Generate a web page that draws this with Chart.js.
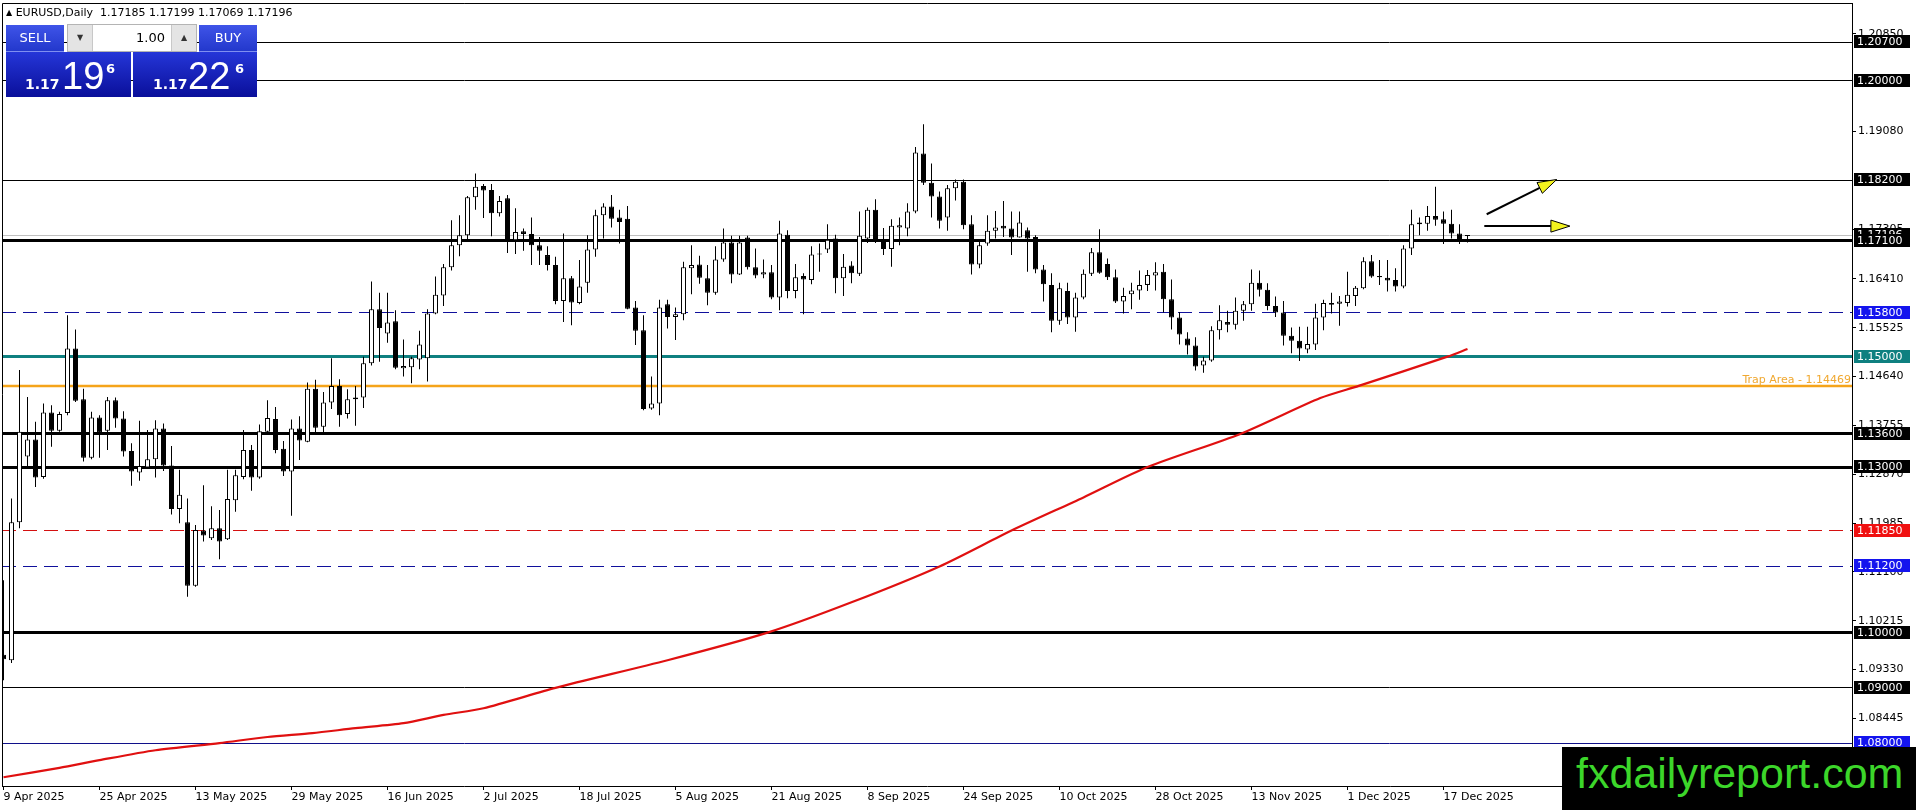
<!DOCTYPE html>
<html>
<head>
<meta charset="utf-8">
<script src="https://cdn.jsdelivr.net/npm/chart.js@4.4.0/dist/chart.umd.min.js"></script>
<style>
html, body { margin: 0; padding: 0; background: #fff; overflow: hidden; }
#wrap { position: relative; width: 1916px; height: 810px; }
#c { position: absolute; left: 0; top: 0; }
.hdr { position: absolute; left: 6px; top: 6px; font: 11px "DejaVu Sans"; line-height: 13px; color: #000; white-space: pre; }
.hdr .tri { font-size: 8px; position: relative; top: -1px; }
.btn { position: absolute; top: 25px; width: 58px; height: 27px; color: #fff; font: 13px "DejaVu Sans"; text-align: center; line-height: 25px;
  background: linear-gradient(#3f54e8, #2338cc); box-sizing: border-box; border-bottom: 1px solid #7f8ff0; }
.sell { left: 6px; }
.buy { left: 199px; }
.lot { position: absolute; left: 67px; top: 24px; width: 130px; height: 28px; background: #fff; border: 1px solid #b4b4b4; box-sizing: border-box; }
.lot .dn, .lot .up { position: absolute; top: 0; width: 24px; height: 26px; background: #e4e4e4; color: #333; font: 8px "DejaVu Sans"; text-align: center; line-height: 26px; }
.lot .dn { left: 0; border-right: 1px solid #c8c8c8; }
.lot .up { right: 0; border-left: 1px solid #c8c8c8; }
.lot .val { position: absolute; left: 25px; right: 25px; top: 0; height: 26px; text-align: right; padding-right: 6px; font: 13px "DejaVu Sans"; line-height: 26px; color: #000; }
.px { position: absolute; top: 52px; height: 45px; background: linear-gradient(#2536d8, #0a0f9a); color: #fff; }
.px span { position: absolute; line-height: 1; white-space: nowrap; }
.px .sm { font: bold 14px "DejaVu Sans"; top: 24px; }
.px .big { font: 38px "Liberation Sans"; top: 3px; }
.px .sup { font: bold 13px "DejaVu Sans"; top: 9px; }
.psell { left: 6px; width: 125px; }
.pbuy { left: 133px; width: 124px; }
.logo { position: absolute; left: 1562px; top: 747px; width: 354px; height: 63px; background: #000; }
.logo span { position: absolute; left: 14px; top: 5px; font: 43px "Liberation Sans"; line-height: 1; color: #3cd62a; }
</style>
</head>
<body>
<div id="wrap">
<canvas id="c" width="1916" height="810"></canvas>
<div class="hdr" id="hdr"></div>
<div class="btn sell">SELL</div>
<div class="lot"><div class="dn">&#9660;</div><div class="val" id="lot"></div><div class="up">&#9650;</div></div>
<div class="btn buy">BUY</div>
<div class="px psell"><span class="sm" style="left:19px" id="sSm"></span><span class="big" style="left:56px" id="sBig"></span><span class="sup" style="left:100px" id="sSup"></span></div>
<div class="px pbuy"><span class="sm" style="left:20px" id="bSm"></span><span class="big" style="left:55px" id="bBig"></span><span class="sup" style="left:102px" id="bSup"></span></div>
<div class="logo"><span>fxdailyreport.com</span></div>
</div>
<script>
// EURUSD daily, 9 Apr 2025 .. 22 Dec 2025, one entry per bar
const opens = [
1.0960,1.0950,1.1200,1.1319,1.1350,1.1282,1.1399,1.1366,1.1398,1.1515,
1.1423,1.1317,1.1390,1.1366,1.1421,1.1388,1.1329,1.1290,1.1299,1.1314,
1.1370,1.1303,1.1224,1.1200,1.1085,1.1185,1.1171,1.1189,1.1169,1.1240,
1.1282,1.1331,1.1281,1.1364,1.1387,1.1333,1.1292,1.1370,1.1346,1.1442,
1.1373,1.1417,1.1447,1.1396,1.1423,1.1426,1.1488,1.1586,1.1542,1.1564,
1.1479,1.1481,1.1495,1.1497,1.1578,1.1611,1.1662,1.1702,1.1720,1.1789,
1.1809,1.1802,1.1760,1.1787,1.1711,1.1727,1.1722,1.1702,1.1684,1.1666,
1.1601,1.1642,1.1597,1.1634,1.1694,1.1756,1.1772,1.1752,1.1750,1.1589,
1.1548,1.1406,1.1415,1.1595,1.1572,1.1577,1.1660,1.1667,1.1642,1.1616,
1.1676,1.1707,1.1649,1.1716,1.1662,1.1649,1.1653,1.1607,1.1721,1.1619,
1.1646,1.1639,1.1687,1.1694,1.1714,1.1642,1.1665,1.1650,1.1714,1.1766,
1.1710,1.1695,1.1734,1.1732,1.1763,1.1868,1.1815,1.1790,1.1752,1.1805,
1.1817,1.1740,1.1667,1.1705,1.1728,1.1737,1.1732,1.1716,1.1729,1.1717,
1.1658,1.1630,1.1565,1.1619,1.1571,1.1607,1.1650,1.1689,1.1668,1.1644,
1.1600,1.1613,1.1620,1.1630,1.1647,1.1654,1.1604,1.1571,1.1533,1.1520,
1.1484,1.1493,1.1548,1.1563,1.1558,1.1583,1.1595,1.1634,1.1621,1.1592,
1.1580,1.1538,1.1529,1.1513,1.1522,1.1571,1.1597,1.1596,1.1597,1.1610,
1.1624,1.1673,1.1646,1.1643,1.1639,1.1627,1.1696,1.1740,1.1741,1.1755,
1.1749,1.1741,1.1723,1.17185
];
const highs = [
1.1095,1.1243,1.1476,1.1427,1.1382,1.1415,1.1412,1.1400,1.1575,1.1549,
1.1442,1.1400,1.1394,1.1427,1.1426,1.1401,1.1343,1.1384,1.1367,1.1385,
1.1379,1.1338,1.1295,1.1243,1.1195,1.1267,1.1229,1.1222,1.1295,1.1295,
1.1367,1.1340,1.1377,1.1421,1.1409,1.1347,1.1386,1.1392,1.1453,1.1458,
1.1436,1.1497,1.1459,1.1441,1.1447,1.1500,1.1636,1.1616,1.1616,1.1584,
1.1531,1.1500,1.1547,1.1586,1.1645,1.1668,1.1747,1.1756,1.1791,1.1832,
1.1813,1.1813,1.1791,1.1793,1.1769,1.1732,1.1752,1.1717,1.1700,1.1681,
1.1723,1.1646,1.1675,1.1720,1.1766,1.1778,1.1793,1.1766,1.1773,1.1601,
1.1575,1.1464,1.1603,1.1603,1.1589,1.1672,1.1702,1.1683,1.1666,1.1700,
1.1732,1.1719,1.1719,1.1719,1.1696,1.1676,1.1666,1.1746,1.1729,1.1668,
1.1651,1.1700,1.1705,1.1740,1.1721,1.1686,1.1673,1.1763,1.1770,1.1785,
1.1733,1.1749,1.1752,1.1778,1.1880,1.1921,1.1850,1.1799,1.1811,1.1821,
1.1821,1.1756,1.1711,1.1756,1.1764,1.1782,1.1763,1.1763,1.1734,1.1720,
1.1666,1.1651,1.1634,1.1634,1.1616,1.1658,1.1697,1.1731,1.1678,1.1658,
1.1625,1.1634,1.1656,1.1657,1.1671,1.1668,1.1640,1.1581,1.1544,1.1535,
1.1500,1.1555,1.1593,1.1583,1.1607,1.1601,1.1658,1.1656,1.1633,1.1609,
1.1601,1.1553,1.1554,1.1554,1.1596,1.1603,1.1616,1.1610,1.1654,1.1628,
1.1680,1.1684,1.1675,1.1675,1.1660,1.1702,1.1766,1.1752,1.1773,1.1808,
1.1763,1.1766,1.1740,1.17199
];
const lows = [
1.0914,1.0945,1.1189,1.1298,1.1264,1.1279,1.1337,1.1364,1.1394,1.1418,
1.1310,1.1314,1.1317,1.1331,1.1371,1.1319,1.1266,1.1275,1.1298,1.1281,
1.1293,1.1214,1.1198,1.1065,1.1083,1.1165,1.1168,1.1133,1.1168,1.1219,
1.1278,1.1257,1.1279,1.1362,1.1325,1.1284,1.1212,1.1313,1.1345,1.1360,
1.1359,1.1405,1.1373,1.1388,1.1375,1.1407,1.1484,1.1491,1.1525,1.1477,
1.1464,1.1452,1.1477,1.1455,1.1577,1.1592,1.1656,1.1682,1.1711,1.1766,
1.1751,1.1718,1.1754,1.1688,1.1686,1.1692,1.1666,1.1666,1.1656,1.1595,
1.1563,1.1557,1.1595,1.1616,1.1681,1.1714,1.1734,1.1705,1.1586,1.1521,
1.1403,1.1404,1.1394,1.1551,1.1530,1.1566,1.1613,1.1632,1.1593,1.1612,
1.1672,1.1633,1.1648,1.1658,1.1642,1.1642,1.1604,1.1584,1.1606,1.1606,
1.1577,1.1631,1.1654,1.1688,1.1615,1.1610,1.1633,1.1646,1.1706,1.1706,
1.1684,1.1663,1.1702,1.1718,1.1760,1.1811,1.1752,1.1732,1.1728,1.1783,
1.1731,1.1649,1.1660,1.1701,1.1714,1.1717,1.1684,1.1716,1.1654,1.1651,
1.1600,1.1544,1.1558,1.1559,1.1545,1.1604,1.1646,1.1650,1.1639,1.1597,
1.1578,1.1586,1.1603,1.1619,1.1620,1.1580,1.1549,1.1522,1.1504,1.1475,
1.1471,1.1491,1.1531,1.1544,1.1549,1.1565,1.1583,1.1609,1.1584,1.1572,
1.1520,1.1506,1.1492,1.1506,1.1512,1.1548,1.1578,1.1556,1.1591,1.1592,
1.1622,1.1643,1.1630,1.1618,1.1618,1.1624,1.1684,1.1720,1.1728,1.1737,
1.1704,1.1714,1.1704,1.17069
];
const closes = [
1.0952,1.1200,1.1364,1.1350,1.1281,1.1399,1.1366,1.1396,1.1515,1.1420,
1.1317,1.1390,1.1362,1.1421,1.1388,1.1328,1.1292,1.1302,1.1314,1.1370,
1.1303,1.1224,1.1250,1.1085,1.1186,1.1176,1.1189,1.1165,1.1242,1.1285,
1.1331,1.1281,1.1365,1.1389,1.1331,1.1292,1.1370,1.1348,1.1442,1.1371,
1.1417,1.1447,1.1394,1.1423,1.1426,1.1488,1.1586,1.1552,1.1562,1.1480,
1.1483,1.1497,1.1522,1.1578,1.1612,1.1662,1.1702,1.1720,1.1789,1.1808,
1.1801,1.1760,1.1782,1.1711,1.1726,1.1722,1.1702,1.1692,1.1666,1.1601,
1.1642,1.1598,1.1627,1.1694,1.1756,1.1772,1.1750,1.1744,1.1587,1.1547,
1.1405,1.1415,1.1589,1.1572,1.1577,1.1662,1.1666,1.1643,1.1616,1.1676,
1.1707,1.1649,1.1707,1.1662,1.1647,1.1653,1.1607,1.1723,1.1619,1.1644,
1.1640,1.1685,1.1685,1.1712,1.1642,1.1663,1.1651,1.1719,1.1766,1.1710,
1.1695,1.1737,1.1738,1.1763,1.1870,1.1815,1.1790,1.1746,1.1805,1.1817,
1.1738,1.1667,1.1702,1.1728,1.1734,1.1732,1.1716,1.1743,1.1714,1.1658,
1.1631,1.1565,1.1624,1.1571,1.1607,1.1650,1.1689,1.1652,1.1644,1.1600,
1.1610,1.1620,1.1630,1.1648,1.1653,1.1604,1.1571,1.1540,1.1520,1.1482,
1.1493,1.1548,1.1566,1.1558,1.1583,1.1595,1.1634,1.1621,1.1592,1.1580,
1.1538,1.1529,1.1515,1.1523,1.1571,1.1597,1.1594,1.1600,1.1612,1.1625,
1.1673,1.1645,1.1644,1.1638,1.1627,1.1696,1.1740,1.1743,1.1755,1.1748,
1.1741,1.1723,1.1708,1.17196
];

// red moving average at these bar positions
const maIdx  = [0, 7, 12, 19, 27, 33, 38.6, 44, 50, 55, 60, 69, 83, 95.5, 106, 117, 126, 135, 143, 154.6, 164.6, 169.4, 180.5, 183];
const maVals = [1.0738, 1.0755, 1.0769, 1.0787, 1.0800, 1.0811, 1.0818, 1.0827, 1.0836, 1.0851, 1.0863, 1.0900, 1.0950, 1.1000, 1.1055, 1.1120, 1.1185, 1.1245, 1.1300, 1.1360, 1.1425, 1.1447, 1.1500, 1.1514];

// time axis labels
const dateTickIdx  = [0, 12, 24, 36, 48, 60, 72, 84, 96, 108, 120, 132, 144, 156, 168, 180];
const dateTickText = ['9 Apr 2025', '25 Apr 2025', '13 May 2025', '29 May 2025', '16 Jun 2025', '2 Jul 2025', '18 Jul 2025', '5 Aug 2025',
  '21 Aug 2025', '8 Sep 2025', '24 Sep 2025', '10 Oct 2025', '28 Oct 2025', '13 Nov 2025', '1 Dec 2025', '17 Dec 2025'];

// price axis labels
const priceTicks = [1.20850, 1.19080, 1.17305, 1.16410, 1.15525, 1.14640, 1.13755, 1.12870, 1.11985, 1.11100, 1.10215, 1.09330, 1.08445];

// horizontal levels
const levelPrices = [1.2070, 1.2000, 1.1820, 1.1710, 1.1580, 1.1500, 1.1360, 1.1300, 1.1185, 1.1120, 1.1000, 1.0900, 1.0800];
const trapPrice = 1.14469;
const bidPrice = 1.17196;
const askPrice = 1.17226;
const lotSize = 1.00;

// arrows (bar index, price)
const arrowFromIdx = [185.4, 185.1];
const arrowFromPx  = [1.1758, 1.17365];
const arrowToIdx   = [194.15, 195.8];
const arrowToPx    = [1.1821, 1.17365];

// styles for the levels, same order as levelPrices
const levelStyle = [
  { color: '#000', w: 1, box: '#000' },
  { color: '#000', w: 1, box: '#000' },
  { color: '#000', w: 1, box: '#000' },
  { color: '#000', w: 3, box: '#000' },
  { color: '#10109c', w: 1, dash: [14, 7], box: '#1414ee' },
  { color: '#0e8080', w: 3, box: '#0e8080' },
  { color: '#000', w: 3, box: '#000' },
  { color: '#000', w: 3, box: '#000' },
  { color: '#d41010', w: 1, dash: [14, 7], box: '#f01010' },
  { color: '#10109c', w: 1, dash: [14, 7], box: '#1414ee' },
  { color: '#000', w: 3, box: '#000' },
  { color: '#000', w: 1, box: '#000' },
  { color: '#10108a', w: 1, box: '#1414ee' }
];
const AXIS_FONT = { family: 'DejaVu Sans', size: 11 };

// header and trade panel texts
const last = opens.length - 1;
document.getElementById('hdr').innerHTML = '<span class="tri">&#9650;</span> EURUSD,Daily  ' +
  [opens[last], highs[last], lows[last], closes[last]].map(v => v.toFixed(5)).join(' ');
document.getElementById('lot').textContent = lotSize.toFixed(2);
function splitQuote(p, pre, big, sup) {
  const s = p.toFixed(5);
  document.getElementById(pre).textContent = s.slice(0, 4);
  document.getElementById(big).textContent = s.slice(4, 6);
  document.getElementById(sup).textContent = s.slice(6);
}
splitQuote(bidPrice, 'sSm', 'sBig', 'sSup');
splitQuote(askPrice, 'bSm', 'bBig', 'bSup');

const bars = opens.map((_, i) => i);
const wickData = bars.map(i => ({ x: i, y: [lows[i], highs[i]] }));
const bodyData = bars.map(i => ({ x: i, y: [opens[i], closes[i]] }));
const maData = maIdx.map((v, k) => ({ x: v, y: maVals[k] }));

function snap(v, w) { return (w % 2 === 1) ? Math.round(v - 0.5) + 0.5 : Math.round(v); }

function drawArrow(ctx, x0, y0, x1, y1) {
  const ang = Math.atan2(y1 - y0, x1 - x0);
  const len = 19, half = 6;
  const bx = x1 - len * Math.cos(ang), by = y1 - len * Math.sin(ang);
  ctx.setLineDash([]);
  ctx.strokeStyle = '#000';
  ctx.lineWidth = 2;
  ctx.beginPath(); ctx.moveTo(x0, y0); ctx.lineTo(bx, by); ctx.stroke();
  ctx.beginPath();
  ctx.moveTo(x1, y1);
  ctx.lineTo(bx + half * Math.sin(ang), by - half * Math.cos(ang));
  ctx.lineTo(bx - half * Math.sin(ang), by + half * Math.cos(ang));
  ctx.closePath();
  ctx.fillStyle = '#f2f21e';
  ctx.fill();
  ctx.lineWidth = 1;
  ctx.stroke();
}

const levelsPlugin = {
  id: 'levels',
  beforeDatasetsDraw(chart) {
    const { ctx, chartArea: a, scales: { x, y } } = chart;
    ctx.save();
    ctx.beginPath(); ctx.rect(a.left, a.top, a.right - a.left, a.bottom - a.top); ctx.clip();
    // bid line
    let by = snap(y.getPixelForValue(bidPrice), 1);
    ctx.strokeStyle = '#c0c0c0'; ctx.lineWidth = 1;
    ctx.beginPath(); ctx.moveTo(a.left, by); ctx.lineTo(a.right, by); ctx.stroke();
    levelPrices.forEach((p, k) => {
      const st = levelStyle[k];
      const py = snap(y.getPixelForValue(p), st.w);
      ctx.strokeStyle = st.color; ctx.lineWidth = st.w; ctx.setLineDash(st.dash || []);
      ctx.beginPath(); ctx.moveTo(a.left, py); ctx.lineTo(a.right, py); ctx.stroke();
    });
    // trap area
    const ty = y.getPixelForValue(trapPrice);
    ctx.setLineDash([]);
    ctx.strokeStyle = '#f5a41a'; ctx.lineWidth = 2.5;
    ctx.beginPath(); ctx.moveTo(a.left, ty); ctx.lineTo(a.right, ty); ctx.stroke();
    ctx.fillStyle = '#f0a830';
    ctx.font = '11px "DejaVu Sans"';
    ctx.textAlign = 'right'; ctx.textBaseline = 'alphabetic';
    ctx.fillText('Trap Area - ' + trapPrice.toFixed(5), a.right - 1, ty - 3);
    ctx.restore();
  },
  afterDatasetsDraw(chart) {
    const { ctx, scales: { x, y } } = chart;
    ctx.save();
    arrowFromIdx.forEach((v, k) => {
      drawArrow(ctx, x.getPixelForValue(v), y.getPixelForValue(arrowFromPx[k]),
        x.getPixelForValue(arrowToIdx[k]), y.getPixelForValue(arrowToPx[k]));
    });
    ctx.restore();
  },
  afterDraw(chart) {
    const { ctx, chartArea: a, scales: { y } } = chart;
    ctx.save();
    ctx.strokeStyle = '#000'; ctx.lineWidth = 1;
    ctx.beginPath();
    ctx.moveTo(a.left + 0.5, a.bottom); ctx.lineTo(a.left + 0.5, a.top + 0.5); ctx.lineTo(a.right, a.top + 0.5);
    ctx.stroke();
    ctx.font = '11px "DejaVu Sans"';
    ctx.textAlign = 'left'; ctx.textBaseline = 'middle';
    const box = (p, col) => {
      const py = Math.round(y.getPixelForValue(p));
      ctx.fillStyle = col;
      ctx.fillRect(a.right + 2, py - 7, 56, 13);
      ctx.fillStyle = '#fff';
      ctx.fillText(p.toFixed(5), a.right + 5, py);
    };
    box(bidPrice, '#000');
    levelPrices.forEach((p, k) => box(p, levelStyle[k].box));
    ctx.restore();
  }
};

new Chart(document.getElementById('c'), {
  type: 'bar',
  data: {
    datasets: [
      { type: 'line', data: maData, borderColor: '#e01010', borderWidth: 2.2, pointRadius: 0, tension: 0.25, order: 0 },
      { data: bodyData, grouped: false, barThickness: 5, borderWidth: 1, borderColor: '#000', borderSkipped: false,
        inflateAmount: 0, minBarLength: 1,
        backgroundColor: c => closes[c.dataIndex] >= opens[c.dataIndex] ? '#fff' : '#000', order: 1 },
      { data: wickData, grouped: false, barThickness: 1, borderWidth: 0, inflateAmount: 0, backgroundColor: '#000', order: 2 }
    ]
  },
  options: {
    responsive: false,
    animation: false,
    devicePixelRatio: 1,
    events: [],
    layout: { padding: { left: 2, top: 3, right: 0, bottom: 0 } },
    plugins: { legend: { display: false }, tooltip: { enabled: false } },
    scales: {
      x: {
        type: 'linear', position: 'bottom', offset: false, bounds: 'data',
        min: -0.1875, max: -0.1875 + 1850 / 8,
        afterBuildTicks: s => { s.ticks = dateTickIdx.map(v => ({ value: v })); },
        afterFit: s => { s.height = 24; s.paddingLeft = 0; s.paddingRight = 0; },
        ticks: { autoSkip: false, maxRotation: 0, align: 'start', padding: 1, color: '#000', font: AXIS_FONT,
          callback: (v, i) => dateTickText[i] },
        grid: { offset: false, drawOnChartArea: false, drawTicks: true, tickLength: 4, color: '#000' },
        border: { color: '#000', width: 1 }
      },
      y: {
        type: 'linear', position: 'right', min: 1.07222, max: 1.21407,
        afterBuildTicks: s => { s.ticks = priceTicks.map(v => ({ value: v })); },
        afterFit: s => { s.width = 64; s.paddingTop = 0; s.paddingBottom = 0; },
        ticks: { padding: 2, color: '#000', font: AXIS_FONT, callback: v => v.toFixed(5) },
        grid: { drawOnChartArea: false, drawTicks: true, tickLength: 4, color: '#000' },
        border: { color: '#000', width: 1 }
      }
    }
  },
  plugins: [levelsPlugin]
});
</script>
</body>
</html>
